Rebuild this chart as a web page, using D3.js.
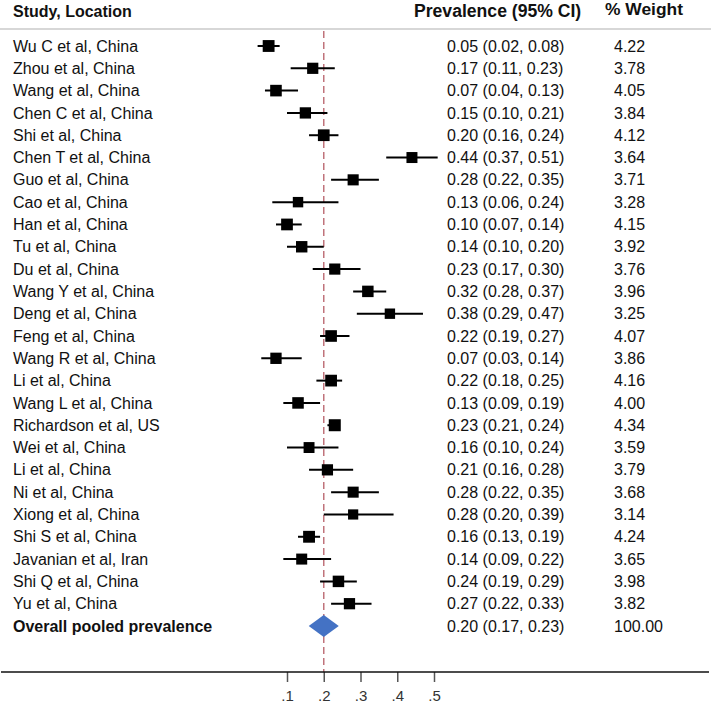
<!DOCTYPE html>
<html>
<head>
<meta charset="utf-8">
<script src="https://cdn.jsdelivr.net/npm/d3@7"></script>
<style>
  html, body { margin: 0; padding: 0; background: #fff; }
  svg { display: block; }
</style>
</head>
<body>
<svg id="chart" width="711" height="704"></svg>
<script>
// ---------- DATA ----------
const studies = [
  "Wu C et al, China", "Zhou et al, China", "Wang et al, China", "Chen C et al, China",
  "Shi et al, China", "Chen T et al, China", "Guo et al, China", "Cao et al, China",
  "Han et al, China", "Tu et al, China", "Du et al, China", "Wang Y et al, China",
  "Deng et al, China", "Feng et al, China", "Wang R et al, China", "Li et al, China",
  "Wang L et al, China", "Richardson et al, US", "Wei et al, China", "Li et al, China",
  "Ni et al, China", "Xiong et al, China", "Shi S et al, China", "Javanian et al, Iran",
  "Shi Q et al, China", "Yu et al, China"
];
const estimates = [0.05, 0.17, 0.07, 0.15, 0.20, 0.44, 0.28, 0.13, 0.10, 0.14, 0.23, 0.32, 0.38,
                   0.22, 0.07, 0.22, 0.13, 0.23, 0.16, 0.21, 0.28, 0.28, 0.16, 0.14, 0.24, 0.27];
const lower = [0.02, 0.11, 0.04, 0.10, 0.16, 0.37, 0.22, 0.06, 0.07, 0.10, 0.17, 0.28, 0.29,
               0.19, 0.03, 0.18, 0.09, 0.21, 0.10, 0.16, 0.22, 0.20, 0.13, 0.09, 0.19, 0.22];
const upper = [0.08, 0.23, 0.13, 0.21, 0.24, 0.51, 0.35, 0.24, 0.14, 0.20, 0.30, 0.37, 0.47,
               0.27, 0.14, 0.25, 0.19, 0.24, 0.24, 0.28, 0.35, 0.39, 0.19, 0.22, 0.29, 0.33];
const weights = [4.22, 3.78, 4.05, 3.84, 4.12, 3.64, 3.71, 3.28, 4.15, 3.92, 3.76, 3.96, 3.25,
                 4.07, 3.86, 4.16, 4.00, 4.34, 3.59, 3.79, 3.68, 3.14, 4.24, 3.65, 3.98, 3.82];
const overallLabel = "Overall pooled prevalence";
const overallEstimate = 0.20, overallLower = 0.17, overallUpper = 0.23, overallWeight = 100.00;
const tickValues = [0.1, 0.2, 0.3, 0.4, 0.5];
const tickLabels = [".1", ".2", ".3", ".4", ".5"];
const headers = { study: "Study, Location", ci: "Prevalence (95% CI)", weight: "% Weight" };

// ---------- CHART ----------
const W = 711, H = 704;
const svg = d3.select("#chart");
const font = "'Liberation Sans', Arial, sans-serif";
const textColor = "#111";

const x = d3.scaleLinear().domain([0.1, 0.5]).range([287, 434]);
const nRows = studies.length + 1;
const y = d3.scaleLinear().domain([0, nRows - 1]).range([46, 626]);
const boxSide = d3.scaleSqrt().domain([0, 4.34]).range([0, 12]);
const axisY = 672;

const fmt2 = d3.format(".2f");
const ciText = (e, l, u) => `${fmt2(e)} (${fmt2(l)}, ${fmt2(u)})`;

// header
svg.append("text").attr("x", 13).attr("y", 11).attr("dy", "0.35em")
  .attr("font-family", font).attr("font-weight", "bold").attr("font-size", 16)
  .attr("fill", textColor).text(headers.study);
svg.append("text").attr("x", 414).attr("y", 11).attr("dy", "0.35em")
  .attr("font-family", font).attr("font-weight", "bold").attr("font-size", 17.6)
  .attr("fill", textColor).text(headers.ci);
svg.append("text").attr("x", 605).attr("y", 9).attr("dy", "0.35em")
  .attr("font-family", font).attr("font-weight", "bold").attr("font-size", 17.4)
  .attr("fill", textColor).text(headers.weight);
svg.append("line").attr("x1", 0).attr("x2", W).attr("y1", 29).attr("y2", 29)
  .attr("stroke", "#b0b0b0").attr("stroke-width", 1.2);

// reference dashed line at overall estimate
svg.append("line")
  .attr("x1", x(overallEstimate)).attr("x2", x(overallEstimate))
  .attr("y1", 31).attr("y2", axisY)
  .attr("stroke", "#c0737b").attr("stroke-width", 1.5)
  .attr("stroke-dasharray", "7,4");

const rows = studies.map((s, i) => ({
  label: s, est: estimates[i], lo: lower[i], hi: upper[i], w: weights[i], i
}));

const g = svg.append("g");
// CI lines
g.selectAll("line.ci").data(rows).join("line").attr("class", "ci")
  .attr("x1", d => x(d.lo)).attr("x2", d => x(d.hi))
  .attr("y1", d => y(d.i)).attr("y2", d => y(d.i))
  .attr("stroke", "#000").attr("stroke-width", 2);
// boxes
g.selectAll("rect.box").data(rows).join("rect").attr("class", "box")
  .attr("x", d => x(d.est) - boxSide(d.w) / 2)
  .attr("y", d => y(d.i) - boxSide(d.w) / 2)
  .attr("width", d => boxSide(d.w)).attr("height", d => boxSide(d.w))
  .attr("fill", "#000");

// labels
const textRows = svg.append("g").attr("font-family", font).attr("font-size", 16).attr("fill", textColor);
textRows.selectAll("text.study").data(rows).join("text").attr("class", "study")
  .attr("x", 13).attr("y", d => y(d.i)).attr("dy", "0.35em").text(d => d.label);
textRows.selectAll("text.ci").data(rows).join("text").attr("class", "ci")
  .attr("x", 447).attr("y", d => y(d.i)).attr("dy", "0.35em").text(d => ciText(d.est, d.lo, d.hi));
textRows.selectAll("text.wt").data(rows).join("text").attr("class", "wt")
  .attr("x", 614).attr("y", d => y(d.i)).attr("dy", "0.35em").text(d => fmt2(d.w));

// overall row
const oi = studies.length;
const oy = y(oi);
const pad = 4;
svg.append("path")
  .attr("d", `M${x(overallLower) - pad},${oy} L${x(overallEstimate)},${oy - 11} L${x(overallUpper) + pad},${oy} L${x(overallEstimate)},${oy + 11} Z`)
  .attr("fill", "#4472C4");
textRows.append("text").attr("x", 13).attr("y", oy).attr("dy", "0.35em")
  .attr("font-weight", "bold").text(overallLabel);
textRows.append("text").attr("x", 447).attr("y", oy).attr("dy", "0.35em")
  .text(ciText(overallEstimate, overallLower, overallUpper));
textRows.append("text").attr("x", 614).attr("y", oy).attr("dy", "0.35em")
  .text(fmt2(overallWeight));

// axis
const axis = d3.axisBottom(x).tickValues(tickValues)
  .tickFormat((d, i) => tickLabels[i]).tickSize(10).tickPadding(8);
const ag = svg.append("g").attr("transform", `translate(0,${axisY})`).call(axis);
ag.select(".domain").remove();
ag.selectAll(".tick line").attr("stroke", "#555").attr("stroke-width", 1.5);
ag.selectAll(".tick text").attr("font-family", font).attr("font-size", 15).attr("fill", "#333");
svg.append("line").attr("x1", 1).attr("x2", 709).attr("y1", axisY).attr("y2", axisY)
  .attr("stroke", "#111").attr("stroke-width", 1.5);
</script>
</body>
</html>
